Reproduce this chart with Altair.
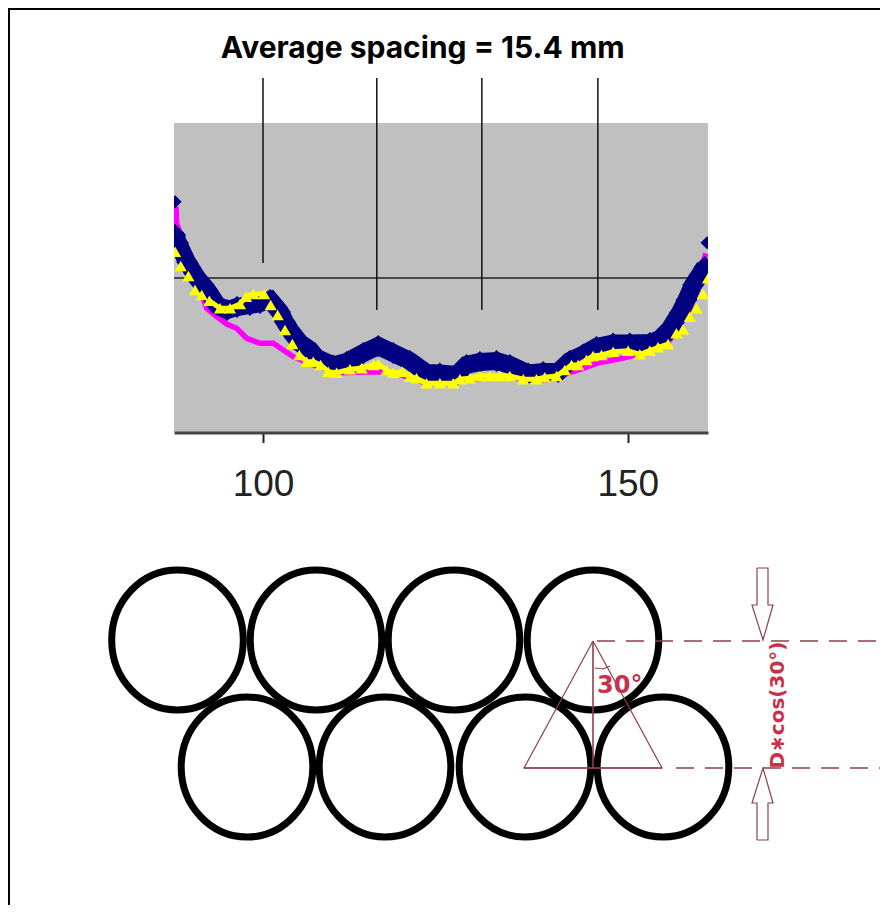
import altair as alt
import pandas as pd

# ---- top panel: profile chart (x in mm, y = arbitrary height above the axis) ----
x_domain = [87.8, 161.0]
y_domain = [0, 309]

navy_x = [87.95, 88.36, 89.59, 90.96, 92.33, 93.70, 95.07, 96.44, 98.22, 99.59, 100.96, 102.33, 103.01,
          103.97, 105.07, 106.44, 107.35, 109.63, 111.46, 113.74, 115.8, 117.85, 120.14,
          122.42, 124.25, 126.53, 127.9, 129.73, 132.01, 133.84, 136.35, 138.41, 140.46, 142.06,
          143.88, 145.71, 148.0, 150.28, 153.02, 154.39, 155.76, 157.13, 158.04, 158.95, 159.87,
          160.55]
navy_y = [197, 189, 170, 154, 142, 127, 122, 125, 127, 129, 132, 120, 110,
          99, 89, 82, 74, 66.5, 70, 79, 86, 79, 71,
          59, 58.5, 57, 67, 70, 71, 67, 58.5, 60, 60, 71,
          77.5, 85, 88.5, 88.5, 89, 93, 103, 119, 132, 147, 157,
          165]
# two isolated diamonds at the ends of the trace
navy_end_x = [87.95, 160.87]
navy_end_y = [230.3, 189.3]

yellow_x = [87.95, 88.72, 89.77, 90.68, 91.6, 92.65, 94.11, 95.48, 96.85, 97.67, 98.68, 100.14, 101.05,
            102.01, 103.01, 104.02, 104.98, 105.98, 106.89, 107.9, 108.95, 110.09, 111.92, 113.52,
            115.11, 115.8, 116.94, 117.85, 119.13, 120.14, 121.05, 122.42, 124.25, 126.08, 126.99,
            128.36, 129.73, 131.1, 132.47, 133.84, 135.67, 137.49, 138.63, 140.23, 141.37, 142.29,
            143.2, 144.34, 145.25, 146.4, 148.0, 150.05, 151.65, 153.02, 154.16, 155.53, 156.67,
            157.58, 158.5, 159.41, 160.32, 161.0]
yellow_y = [180.3, 166, 156, 142, 137, 131.3, 123.7, 123.7, 128, 135.3, 138, 138, 127,
            117, 102, 88, 77, 70.3, 70.3, 67, 60.3, 59.3, 62.7, 63.7,
            67, 68, 62, 59.3, 60.3, 55.3, 53.7, 48.7, 48.7, 48.7, 52.7,
            53.7, 56, 56, 56, 56, 52.7, 52.7, 54.7, 56, 62, 67,
            67, 72, 76, 77, 80.3, 81.3, 77.7, 81.3, 84.7, 88, 98.7,
            102.7, 115.3, 123.7, 138, 153.7]

magenta_x = [88.08, 88.17, 92.28, 93.65, 95.02, 96.39, 97.76, 99.59, 101.41, 102.78, 104.16, 106.89,
             110.55, 115.11, 117.85, 122.42, 132.0, 138.9, 143.88, 145.71, 148.0, 150.28, 152.56,
             155.76, 158.5, 159.87, 160.69]
magenta_y = [225.3, 208.7, 123.7, 115.3, 108, 103.7, 93.7, 88.7, 88.7, 82, 75.3, 67,
             59.3, 60.3, 59.7, 48.7, 55, 52, 63.7, 68.7, 72, 75.3, 80.3,
             92, 122, 155.3, 178.7]

peak_x = [100.0, 115.6, 130.0, 145.9]
peak_bottom = [169, 122, 122, 122]
peak_top = 354
mean_level = 154
mean_end = 158.9
title_text = "Average spacing = 15.4 mm"
x_ticks = [100, 150]

# ---- bottom panel: hexagonal packing diagram, in picture units ----
top_row_x = [177.5, 316, 454, 593]
top_row_y = 640
bottom_row_x = [247, 385, 525, 663]
bottom_row_y = 767
tri_x = [593, 524, 662, 593]
tri_y = [641, 768, 768, 641]
top_arrow_x = [757, 757, 752, 763, 773, 768, 768, 757]
top_arrow_y = [568, 605, 605, 640, 605, 605, 568, 568]
bot_arrow_x = [757, 757, 752, 763, 773, 768, 768, 757]
bot_arrow_y = [840, 803, 803, 768, 803, 803, 840, 840]
arc_x = [595, 603, 610]
arc_y = [668, 669, 666]
ELLIPSE = "M-0.94,0 A0.94,1 0 1 1 0.94,0 A0.94,1 0 1 1 -0.94,0 Z"
RED = "#8f3f4a"
TEXT_RED = "#c9304a"

W, H = 872, 897

xs = alt.X("x:Q", scale=alt.Scale(domain=x_domain, range=[166, 700], nice=False, zero=False),
           axis=alt.Axis(values=x_ticks, title=None, grid=False, orient="bottom", offset=424.5 - H, zindex=1,
                         domainColor="#444444", domainWidth=3, tickColor="#222222", tickWidth=2, tickSize=10,
                         labelPadding=24, labelFontSize=37, labelFont="Liberation Sans", labelColor="#222222",
                         labelFlush=False, labelOverlap=False))
ys = alt.Y("y:Q", scale=alt.Scale(domain=y_domain, range=[424, 115], nice=False, zero=False), axis=None)

navy = pd.DataFrame({"x": navy_x, "y": navy_y})
navy_ends = pd.DataFrame({"x": navy_end_x, "y": navy_end_y})
yellow = pd.DataFrame({"x": yellow_x, "y": yellow_y})
magenta = pd.DataFrame({"x": magenta_x, "y": magenta_y})
yellow_band = yellow[((yellow.x > 92) & (yellow.x < 100.5)) | ((yellow.x > 104.5) & (yellow.x < 155.6))].copy()
yellow_band["part"] = (yellow_band.x > 102).astype(int)

panel = pd.DataFrame({"x": [x_domain[0]], "x2": [x_domain[1]], "y": [y_domain[0]], "y2": [y_domain[1]]})
bg = alt.Chart(panel).mark_rect(color="#c0c0c0").encode(x=xs, x2="x2:Q", y=ys, y2="y2:Q")
mean = alt.Chart(pd.DataFrame({"x": [x_domain[0]], "x2": [mean_end], "y": [mean_level]})).mark_rule(
    color="#222222", strokeWidth=1.5).encode(x=xs, x2="x2:Q", y=ys)
peaks = alt.Chart(pd.DataFrame({"x": peak_x, "y": peak_bottom, "y2": [peak_top] * 4})).mark_rule(
    color="#111111", strokeWidth=1.5).encode(x=xs, y=ys, y2="y2:Q")
mag_line = alt.Chart(magenta).mark_line(color="#ff00ff", strokeWidth=5.5).encode(x=xs, y=ys, order="x:Q")
navy_line = alt.Chart(navy).mark_line(color="#000080", strokeWidth=18).encode(x=xs, y=ys)
navy_pts = alt.Chart(navy).mark_point(shape="diamond", filled=True, color="#000080", size=484, opacity=1).encode(x=xs, y=ys)
navy_end = alt.Chart(navy_ends).mark_point(shape="diamond", filled=True, color="#000080", size=170, opacity=1).encode(x=xs, y=ys)
yellow_line = alt.Chart(yellow_band).mark_line(color="#ffff00", strokeWidth=5).encode(x=xs, y=ys, detail="part:N")
yellow_pts = alt.Chart(yellow).mark_point(shape="triangle-up", filled=True, color="#ffff00", size=150, opacity=1).encode(x=xs, y=ys)
title = alt.Chart(pd.DataFrame({"x": [121.9], "y": [383], "t": [title_text]})).mark_text(
    font="Inter", fontWeight="bold", fontSize=30, color="#000000", align="center", baseline="middle"
).encode(x=xs, y=ys, text="t:N")
# plot-area edges: markers do not spill outside the grey panel
mask_l = alt.Chart(pd.DataFrame({"x": [85.5], "x2": [x_domain[0]], "y": [2], "y2": [y_domain[1]]})).mark_rect(
    color="#ffffff").encode(x=xs, x2="x2:Q", y=ys, y2="y2:Q")
mask_r = alt.Chart(pd.DataFrame({"x": [x_domain[1]], "x2": [163.5], "y": [2], "y2": [y_domain[1]]})).mark_rect(
    color="#ffffff").encode(x=xs, x2="x2:Q", y=ys, y2="y2:Q")

top = alt.layer(bg, mean, peaks, mag_line, navy_line, navy_pts, navy_end, yellow_line, yellow_pts, mask_l, mask_r, title)

dx = alt.X("x:Q", scale=alt.Scale(domain=[8, 880], range=[0, W], nice=False, zero=False), axis=None)
dy = alt.Y("y:Q", scale=alt.Scale(domain=[8, 905], range=[0, H], nice=False, zero=False), axis=None)

circles = pd.DataFrame({"x": top_row_x + bottom_row_x,
                        "y": [top_row_y] * 4 + [bottom_row_y] * 4})
circ = alt.Chart(circles).mark_point(shape=ELLIPSE, filled=False, color="#000000", strokeWidth=7,
                                     size=140 * 140, opacity=1).encode(x=dx, y=dy)

def path(xv, yv, dash=None, width=1.2):
    df = pd.DataFrame({"x": xv, "y": yv, "i": range(len(xv))})
    kw = dict(color=RED, strokeWidth=width)
    if dash:
        kw["strokeDash"] = dash
    return alt.Chart(df).mark_line(**kw).encode(x=dx, y=dy, order="i:Q")

tri = path(tri_x, tri_y)
vert = path([593, 593], [641, 768], width=1.6)
base = path([524, 662], [768, 768], width=1.6)
dash1 = path([597, 880], [641, 641], dash=[18, 11], width=1.5)
dash2 = path([676, 880], [768, 768], dash=[18, 11], width=1.5)
arr1 = path(top_arrow_x, top_arrow_y)
arr2 = path(bot_arrow_x, bot_arrow_y)
arc = path(arc_x, arc_y)

t30 = alt.Chart(pd.DataFrame({"x": [597], "y": [686], "t": ["30°"]})).mark_text(
    font="DejaVu Sans", fontWeight="bold", fontSize=24, color=TEXT_RED, align="left", baseline="middle"
).encode(x=dx, y=dy, text="t:N")
tcos = alt.Chart(pd.DataFrame({"x": [778], "y": [705], "t": ["D∗cos(30°)"]})).mark_text(
    font="DejaVu Sans", fontWeight="bold", fontSize=20, color=TEXT_RED, align="center", baseline="middle", angle=270
).encode(x=dx, y=dy, text="t:N")

frame_t = alt.Chart(pd.DataFrame({"x": [8], "x2": [880], "y": [9]})).mark_rule(color="#000000", strokeWidth=2).encode(x=dx, x2="x2:Q", y=dy)
frame_l = alt.Chart(pd.DataFrame({"x": [9], "y": [9], "y2": [905]})).mark_rule(color="#000000", strokeWidth=2).encode(x=dx, y=dy, y2="y2:Q")

diagram = alt.layer(circ, tri, vert, base, dash1, dash2, arr1, arr2, arc, t30, tcos, frame_t, frame_l)

chart = alt.layer(top, diagram).resolve_scale(x="independent", y="independent").resolve_axis(
    x="independent", y="independent"
).properties(
    width=W, height=H, padding=0, autosize=alt.AutoSizeParams(type="none"), background="#ffffff"
).configure_view(stroke=None)

chart.save("out.html", embed_options={"renderer": "svg", "actions": False})
